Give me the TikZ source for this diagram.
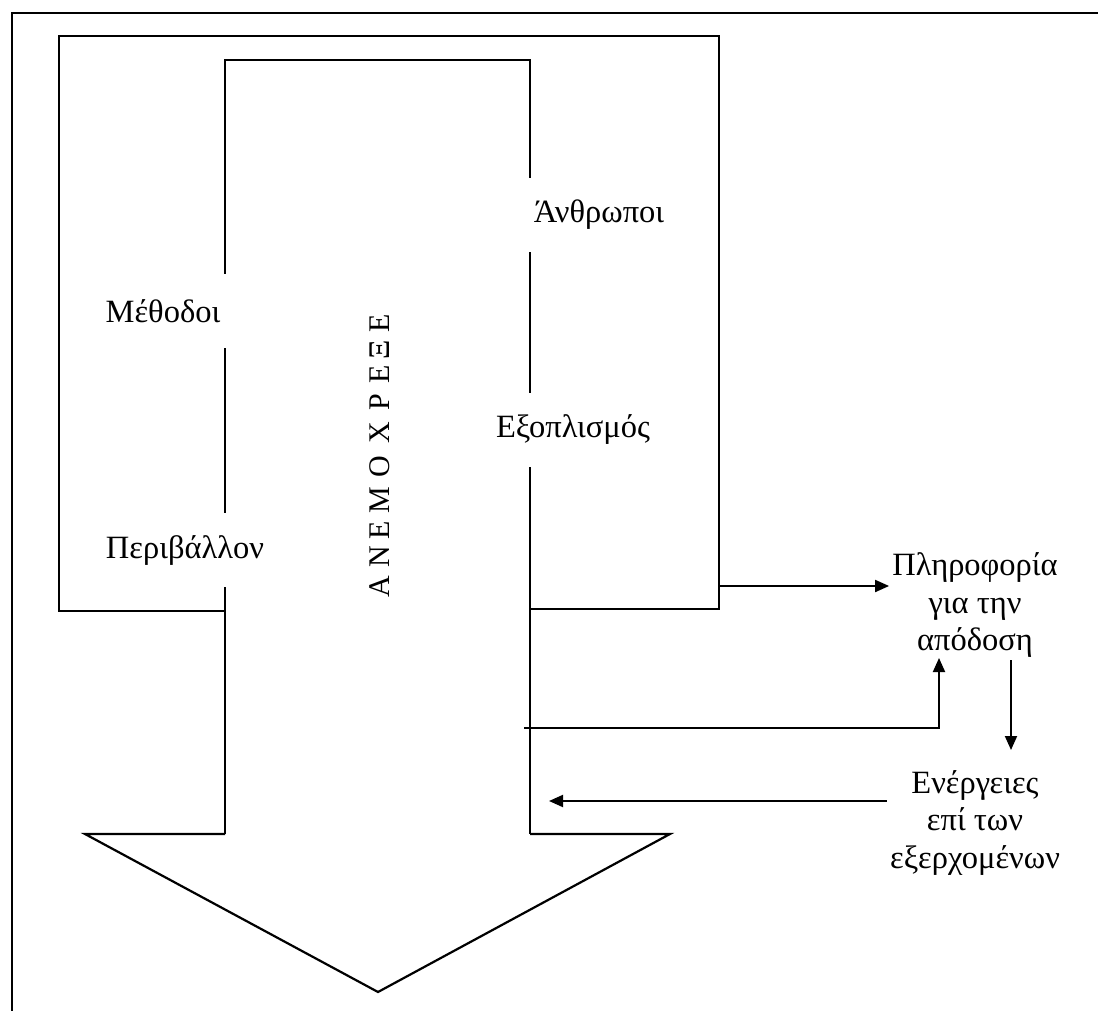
\documentclass[tikz,border=0pt]{standalone}
\usepackage{fontspec}
\setmainfont{Liberation Serif}
\usetikzlibrary{arrows.meta}
\tikzset{
  outline/.style={line width=2.2pt, line join=miter},
  frameline/.style={line width=2.6pt},
  arr/.style={line width=1.9pt, -{Triangle[length=14pt,width=12pt]}},
  gaplabel/.style={fill=white, inner xsep=10pt, minimum height=74pt, font=\fontsize{32.5}{37.5}\selectfont},
  sidelabel/.style={align=center, inner sep=3pt, font=\fontsize{32.5}{37.5}\selectfont},
  vertletter/.style={rotate=90, inner sep=0pt, font=\fontsize{30}{30}\selectfont}
}
\begin{document}
\begin{tikzpicture}[x=1pt,y=-1pt]
\useasboundingbox (0,0) rectangle (1098,1011);
% frame
\draw[frameline] (12,1011) -- (12,13) -- (1098,13);
% outer body of the shape
\draw[outline] (225,611) -- (59,611) -- (59,36) -- (719,36) -- (719,609) -- (530,609);
% inner stem of the arrow
\draw[outline] (225,834) -- (225,60) -- (530,60) -- (530,834);
% arrow head
\draw[outline] (225,834) -- (85,834) -- (378,992) -- (670,834) -- (530,834);
% labels on the lines
\node[gaplabel] (meth) at (163,311) {Μέθοδοι};
\node[gaplabel] (anth) at (599,215) {Άνθρωποι};
\node[gaplabel] (exop) at (573,430) {Εξοπλισμός};
\node[gaplabel] (peri) at (185,550) {Περιβάλλον};
% vertical stacked word
\foreach \l/\yy [count=\i] in {Ε/323, Ξ/350, Ε/374, Ρ/402, Χ/433, Ο/467, Μ/500, Ε/530, Ν/557, Α/587}
  \node[vertletter] (exer\i) at (380,\yy) {\l};
% right side texts
\node[sidelabel] (info) at (975,605) {Πληροφορία\\για την\\απόδοση};
\node[sidelabel] (act) at (975,823) {Ενέργειες\\επί των\\εξερχομένων};
% connectors
\coordinate (boxout) at (719,586);
\draw[arr] (boxout) -- (boxout -| info.west);
\coordinate (fbstart) at (524,728);
\coordinate (fbtip) at (939,658);
\draw[arr] (fbstart) -| (fbtip);
\coordinate (downstart) at (1011,660);
\coordinate (downtip) at (1011,750);
\draw[arr] (downstart) -- (downtip);
\coordinate (actout) at (act.west |- 0,801);
\coordinate (acttip) at (549,801);
\draw[arr] (actout) -- (acttip);
\end{tikzpicture}
\end{document}
